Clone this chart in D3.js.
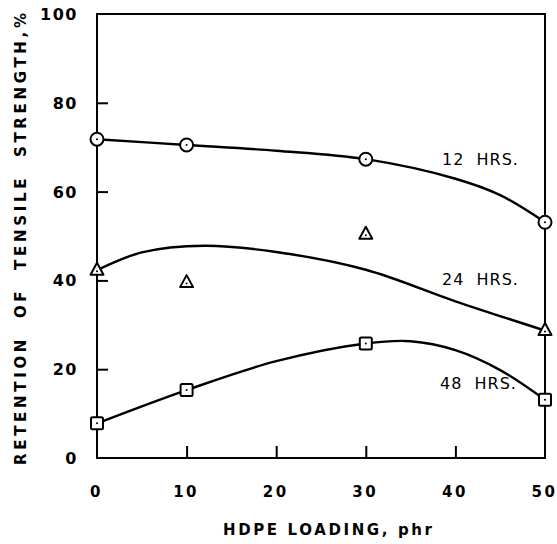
<!DOCTYPE html>
<html><head><meta charset="utf-8">
<script src="https://cdn.jsdelivr.net/npm/d3@7"></script>
<style>body{margin:0;background:#fff}svg{display:block}text{font-family:"DejaVu Sans",sans-serif;fill:#000}</style>
</head><body><svg id="c" width="557" height="544"></svg>
<script>
// Data
const loading = [0, 10, 30, 50];
const hrs12 = [71.8, 70.5, 67.3, 53.1];
const hrs24 = [42.3, 39.5, 50.4, 28.7];
const hrs48 = [7.8, 15.3, 25.8, 13.1];
// Fitted (hand-drawn) curves
const fit12x = [0, 10, 20, 30, 40, 45, 50];
const fit12y = [71.8, 70.5, 69.2, 67.3, 62.9, 59.2, 53.1];
const fit24x = [0, 5, 12, 20, 30, 40, 50];
const fit24y = [42.3, 46.3, 47.8, 46.4, 42.4, 35.3, 28.7];
const fit48x = [0, 10, 20, 30, 35, 40, 45, 50];
const fit48y = [7.8, 15.3, 21.8, 25.8, 26.3, 24.3, 19.8, 13.1];
const xTicks = [0, 10, 20, 30, 40, 50];
const yTicks = [0, 20, 40, 60, 80, 100];
const seriesNames = ["12 HRS.", "24 HRS.", "48 HRS."];

const svg = d3.select("#c");
const L = 97, R = 545, T = 14, B = 458;
const x = d3.scaleLinear().domain([0, 50]).range([L, R]);
const y = d3.scaleLinear().domain([0, 100]).range([B, T]);

// frame
svg.append("rect").attr("x", L).attr("y", T).attr("width", R - L).attr("height", B - T)
  .attr("fill", "none").attr("stroke", "#000").attr("stroke-width", 2);

// inward ticks via axes
const yAx = svg.append("g").attr("transform", `translate(${L},0)`)
  .call(d3.axisRight(y).tickValues(yTicks.filter(v => v > 0 && v < 100)).tickSize(11).tickFormat(""));
const xAx = svg.append("g").attr("transform", `translate(0,${B})`)
  .call(d3.axisTop(x).tickValues(xTicks.filter(v => v > 0 && v < 50)).tickSize(12).tickFormat(""));
[yAx, xAx].forEach(g => { g.select(".domain").remove(); g.selectAll("line").attr("stroke", "#000").attr("stroke-width", 2); });

// tick labels
svg.append("g").selectAll("text").data(yTicks).join("text")
  .attr("x", 78).attr("y", d => y(d) + 6).attr("text-anchor", "end")
  .attr("font-size", 16).attr("font-weight", "bold").attr("letter-spacing", 1.5)
  .text(d => d);
svg.append("g").selectAll("text").data(xTicks).join("text")
  .attr("x", d => x(d) - 0.5).attr("y", 497).attr("text-anchor", "middle")
  .attr("font-size", 15).attr("font-weight", "bold").attr("letter-spacing", 2.5)
  .text(d => d);

// axis titles
svg.append("text").attr("x", 223).attr("y", 535)
  .attr("font-size", 15).attr("font-weight", "bold")
  .attr("textLength", 209).attr("lengthAdjust", "spacing")
  .text("HDPE LOADING, phr");
svg.append("text").attr("transform", "translate(26,465) rotate(-90)")
  .attr("font-size", 15).attr("font-weight", "bold")
  .attr("textLength", 452).attr("lengthAdjust", "spacing")
  .style("white-space", "pre")
  .text("RETENTION  OF  TENSILE  STRENGTH,%");

// curves
const line = d3.line().x(d => x(d[0])).y(d => y(d[1])).curve(d3.curveCatmullRom.alpha(0.5));
[[fit12x, fit12y], [fit24x, fit24y], [fit48x, fit48y]].forEach(([xs, ys]) => {
  svg.append("path").attr("d", line(xs.map((v, i) => [v, ys[i]])))
    .attr("fill", "none").attr("stroke", "#000").attr("stroke-width", 2.4);
});

// markers
const g = svg.append("g").attr("stroke", "#000").attr("stroke-width", 2).attr("fill", "#fff");
loading.forEach((lx, i) => {
  const cx = x(lx);
  let cy = y(hrs12[i]);
  g.append("circle").attr("cx", cx).attr("cy", cy).attr("r", 6.5);
  g.append("circle").attr("cx", cx).attr("cy", cy).attr("r", 1).attr("fill", "#000").attr("stroke", "none");
  cy = y(hrs24[i]);
  g.append("path").attr("d", `M${cx},${cy - 7.5}L${cx + 6.5},${cy + 4.5}L${cx - 6.5},${cy + 4.5}Z`).attr("stroke-linejoin", "round");
  g.append("circle").attr("cx", cx).attr("cy", cy + 1).attr("r", 1).attr("fill", "#000").attr("stroke", "none");
  cy = y(hrs48[i]);
  g.append("rect").attr("x", cx - 6).attr("y", cy - 6).attr("width", 12).attr("height", 12).attr("rx", 1.5);
  g.append("circle").attr("cx", cx).attr("cy", cy).attr("r", 1).attr("fill", "#000").attr("stroke", "none");
});

// series labels
const labelX = [442, 442, 440];
const labelY = [165, 285, 389];
seriesNames.forEach((s, i) => {
  svg.append("text").attr("x", labelX[i]).attr("y", labelY[i])
    .attr("font-size", 16).attr("letter-spacing", 1).style("white-space", "pre")
    .text(s.replace(" ", "  "));
});
</script></body></html>
